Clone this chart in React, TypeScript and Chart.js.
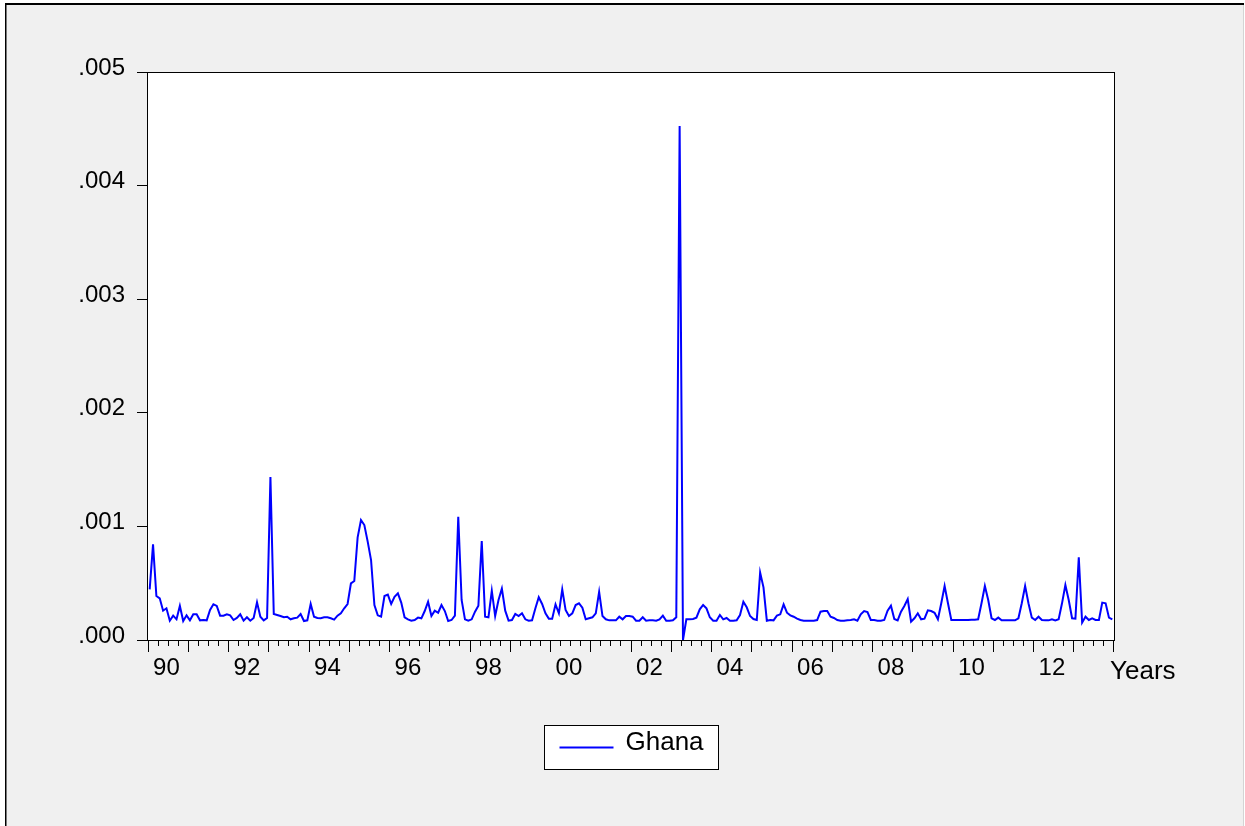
import { useEffect, useRef } from 'react';
import { Chart, registerables } from 'chart.js';

Chart.register(...registerables);

const FONT = '"Liberation Sans", Arial, Helvetica, sans-serif';

// Monthly observations 1990M01 .. 2013M12
const firstYear = 1990;
const lastYear = 2013;

const ghana1990to1993 = [
  0.000446, 0.000842, 0.000387, 0.000367, 0.000258, 0.000279, 0.000170, 0.000214, 0.000182, 0.000300, 0.000167, 0.000217,
  0.000173, 0.000226, 0.000226, 0.000173, 0.000176, 0.000173, 0.000264, 0.000314, 0.000300, 0.000214, 0.000214, 0.000226,
  0.000217, 0.000176, 0.000194, 0.000226, 0.000170, 0.000200, 0.000170, 0.000194, 0.000332, 0.000205, 0.000173, 0.000194,
  0.001435, 0.000229, 0.000220, 0.000211, 0.000200, 0.000205, 0.000182, 0.000191, 0.000197, 0.000229, 0.000167, 0.000173,
];
const ghana1994to1997 = [
  0.000317, 0.000205, 0.000194, 0.000191, 0.000200, 0.000200, 0.000191, 0.000179, 0.000214, 0.000235, 0.000279, 0.000317,
  0.000499, 0.000519, 0.000904, 0.001056, 0.001012, 0.000866, 0.000704, 0.000308, 0.000217, 0.000205, 0.000387, 0.000399,
  0.000317, 0.000381, 0.000411, 0.000329, 0.000200, 0.000182, 0.000170, 0.000176, 0.000197, 0.000191, 0.000255, 0.000337,
  0.000211, 0.000258, 0.000240, 0.000308, 0.000255, 0.000167, 0.000176, 0.000214, 0.001085, 0.000352, 0.000182, 0.000170,
];
const ghana1998to2001 = [
  0.000182, 0.000249, 0.000302, 0.000871, 0.000205, 0.000200, 0.000434, 0.000211, 0.000352, 0.000452, 0.000258, 0.000170,
  0.000176, 0.000229, 0.000211, 0.000235, 0.000182, 0.000170, 0.000173, 0.000279, 0.000376, 0.000317, 0.000235, 0.000188,
  0.000188, 0.000314, 0.000235, 0.000446, 0.000264, 0.000211, 0.000235, 0.000308, 0.000323, 0.000285, 0.000182, 0.000191,
  0.000200, 0.000235, 0.000423, 0.000211, 0.000182, 0.000173, 0.000173, 0.000173, 0.000205, 0.000182, 0.000211, 0.000211,
];
const ghana2002to2005 = [
  0.000205, 0.000170, 0.000170, 0.000200, 0.000170, 0.000173, 0.000173, 0.000170, 0.000182, 0.000214, 0.000170, 0.000170,
  0.000173, 0.000200, 0.004525, 0.000000, 0.000182, 0.000182, 0.000185, 0.000197, 0.000270, 0.000308, 0.000279, 0.000200,
  0.000170, 0.000170, 0.000220, 0.000182, 0.000194, 0.000170, 0.000170, 0.000173, 0.000220, 0.000337, 0.000288, 0.000211,
  0.000185, 0.000176, 0.000593, 0.000464, 0.000170, 0.000176, 0.000173, 0.000214, 0.000226, 0.000314, 0.000240, 0.000217,
];
const ghana2006to2009 = [
  0.000205, 0.000188, 0.000176, 0.000170, 0.000170, 0.000170, 0.000170, 0.000176, 0.000249, 0.000255, 0.000255, 0.000205,
  0.000194, 0.000176, 0.000170, 0.000170, 0.000173, 0.000176, 0.000182, 0.000170, 0.000226, 0.000255, 0.000246, 0.000176,
  0.000176, 0.000170, 0.000170, 0.000176, 0.000258, 0.000302, 0.000185, 0.000173, 0.000249, 0.000300, 0.000361, 0.000161,
  0.000191, 0.000235, 0.000182, 0.000188, 0.000261, 0.000255, 0.000240, 0.000182, 0.000323, 0.000475, 0.000323, 0.000176,
];
const ghana2010to2013 = [
  0.000176, 0.000176, 0.000176, 0.000176, 0.000176, 0.000179, 0.000179, 0.000182, 0.000323, 0.000475, 0.000352, 0.000191,
  0.000176, 0.000197, 0.000173, 0.000173, 0.000173, 0.000173, 0.000173, 0.000191, 0.000323, 0.000475, 0.000323, 0.000197,
  0.000176, 0.000205, 0.000176, 0.000173, 0.000173, 0.000182, 0.000173, 0.000182, 0.000323, 0.000484, 0.000352, 0.000191,
  0.000188, 0.000728, 0.000153, 0.000205, 0.000176, 0.000191, 0.000176, 0.000176, 0.000329, 0.000323, 0.000197, 0.000182,
];

const xTickLabels = ['90', '92', '94', '96', '98', '00', '02', '04', '06', '08', '10', '12'];
const yTickLabels = ['.000', '.001', '.002', '.003', '.004', '.005'];
const seriesName = 'Ghana';
const xAxisTitle = 'Years';

const categories: string[] = [];
for (let y = firstYear; y <= lastYear; y++) {
  for (let m = 1; m <= 12; m++) categories.push(`${y}M${m < 10 ? '0' + m : m}`);
}
const ghanaValues = [
  ...ghana1990to1993,
  ...ghana1994to1997,
  ...ghana1998to2001,
  ...ghana2002to2005,
  ...ghana2006to2009,
  ...ghana2010to2013,
];

const framePlugin = {
  id: 'evFrame',
  beforeDraw(chart: any) {
    const { ctx, width, height, chartArea: a } = chart;
    ctx.save();
    ctx.fillStyle = '#ffffff';
    ctx.fillRect(0, 0, width, height);
    ctx.fillStyle = '#f0f0f0';
    ctx.fillRect(5, 3, 1239, height);
    ctx.fillStyle = '#000000';
    ctx.fillRect(5, 3, 1239, 2);
    ctx.fillRect(5, 3, 1.5, height);
    ctx.fillStyle = '#d4d4d4';
    ctx.fillRect(1243, 5, 1, height);
    ctx.fillStyle = '#ffffff';
    ctx.fillRect(a.left, a.top, a.right - a.left, a.bottom - a.top);
    ctx.restore();
  },
  afterDraw(chart: any) {
    const { ctx, chartArea: a } = chart;
    ctx.save();
    ctx.strokeStyle = '#000000';
    ctx.lineWidth = 1;
    const l = Math.round(a.left) - 0.5;
    const t = Math.round(a.top) + 0.5;
    const r = Math.round(a.right) + 0.5;
    const b = Math.round(a.bottom) + 0.5;
    ctx.strokeRect(l, t, r - l, b - t);

    ctx.font = `26px ${FONT}`;
    ctx.fillStyle = '#000000';
    ctx.textAlign = 'left';
    ctx.textBaseline = 'alphabetic';
    ctx.fillText(xAxisTitle, a.right - 4, 679);

    // legend
    const ds = chart.data.datasets[0];
    const cx = (a.left + a.right) / 2;
    const bw = 174;
    const bx = Math.round(cx - bw / 2) + 0.5;
    const by = 725.5;
    const bh = 44;
    ctx.fillStyle = '#ffffff';
    ctx.fillRect(bx, by, bw, bh);
    ctx.strokeStyle = '#000000';
    ctx.lineWidth = 1;
    ctx.strokeRect(bx, by, bw, bh);
    ctx.strokeStyle = ds.borderColor;
    ctx.lineWidth = 2;
    ctx.beginPath();
    ctx.moveTo(bx + 15, 747.5);
    ctx.lineTo(bx + 69, 747.5);
    ctx.stroke();
    ctx.fillStyle = '#000000';
    ctx.font = `26px ${FONT}`;
    ctx.fillText(ds.label, bx + 81, 750);
    ctx.restore();
  },
};

export default function App() {
  const ref = useRef<HTMLCanvasElement | null>(null);

  useEffect(() => {
    if (!ref.current) return;
    const chart = new Chart(ref.current, {
      type: 'line',
      data: {
        labels: categories,
        datasets: [
          {
            label: seriesName,
            data: ghanaValues,
            borderColor: '#0000ff',
            backgroundColor: '#0000ff',
            borderWidth: 2,
            pointRadius: 0,
            pointHoverRadius: 0,
            tension: 0,
            fill: false,
          },
        ],
      },
      options: {
        responsive: false,
        maintainAspectRatio: false,
        animation: false,
        events: [],
        layout: { padding: { left: 0, right: 131, top: 72, bottom: 126 } },
        plugins: { legend: { display: false }, tooltip: { enabled: false } },
        scales: {
          x: {
            type: 'category',
            offset: true,
            border: { display: false },
            grid: {
              offset: true,
              drawOnChartArea: false,
              drawTicks: true,
              tickLength: 12,
              tickWidth: 1,
              tickColor: (ctx: any) => {
                const i = ctx.index === undefined ? categories.length : ctx.index;
                return i % 3 === 0 ? '#000000' : 'rgba(0,0,0,0)';
              },
              tickBorderDash: (ctx: any) => {
                const i = ctx.index === undefined ? categories.length : ctx.index;
                return i % 12 === 0 ? [] : [6, 40];
              },
            },
            ticks: {
              autoSkip: false,
              maxRotation: 0,
              minRotation: 0,
              padding: 2,
              color: '#000000',
              font: { family: FONT, size: 24 },
              callback: (_v: any, i: number) => {
                const yr = Math.floor(i / 12);
                if (i % 12 === 5 && yr % 2 === 0) return xTickLabels[yr / 2];
                return '';
              },
            },
            afterFit: (s: any) => {
              s.height = 60;
            },
          },
          y: {
            type: 'linear',
            min: 0,
            max: 0.005,
            border: { display: false },
            grid: {
              drawOnChartArea: false,
              drawTicks: true,
              tickLength: 11,
              tickWidth: 1,
              tickColor: '#000000',
            },
            ticks: {
              stepSize: 0.001,
              padding: 12,
              labelOffset: -4,
              color: '#000000',
              font: { family: FONT, size: 24 },
              callback: (v: any) => yTickLabels[Math.round(Number(v) / 0.001)],
            },
            afterFit: (s: any) => {
              s.width = 148;
            },
          },
        },
      },
      plugins: [framePlugin],
    });
    return () => chart.destroy();
  }, []);

  return (
    <div style={{ position: 'fixed', left: 0, top: 0, width: 1245, height: 826, overflow: 'hidden' }}>
      <canvas ref={ref} width={1245} height={826} style={{ display: 'block' }} />
    </div>
  );
}
